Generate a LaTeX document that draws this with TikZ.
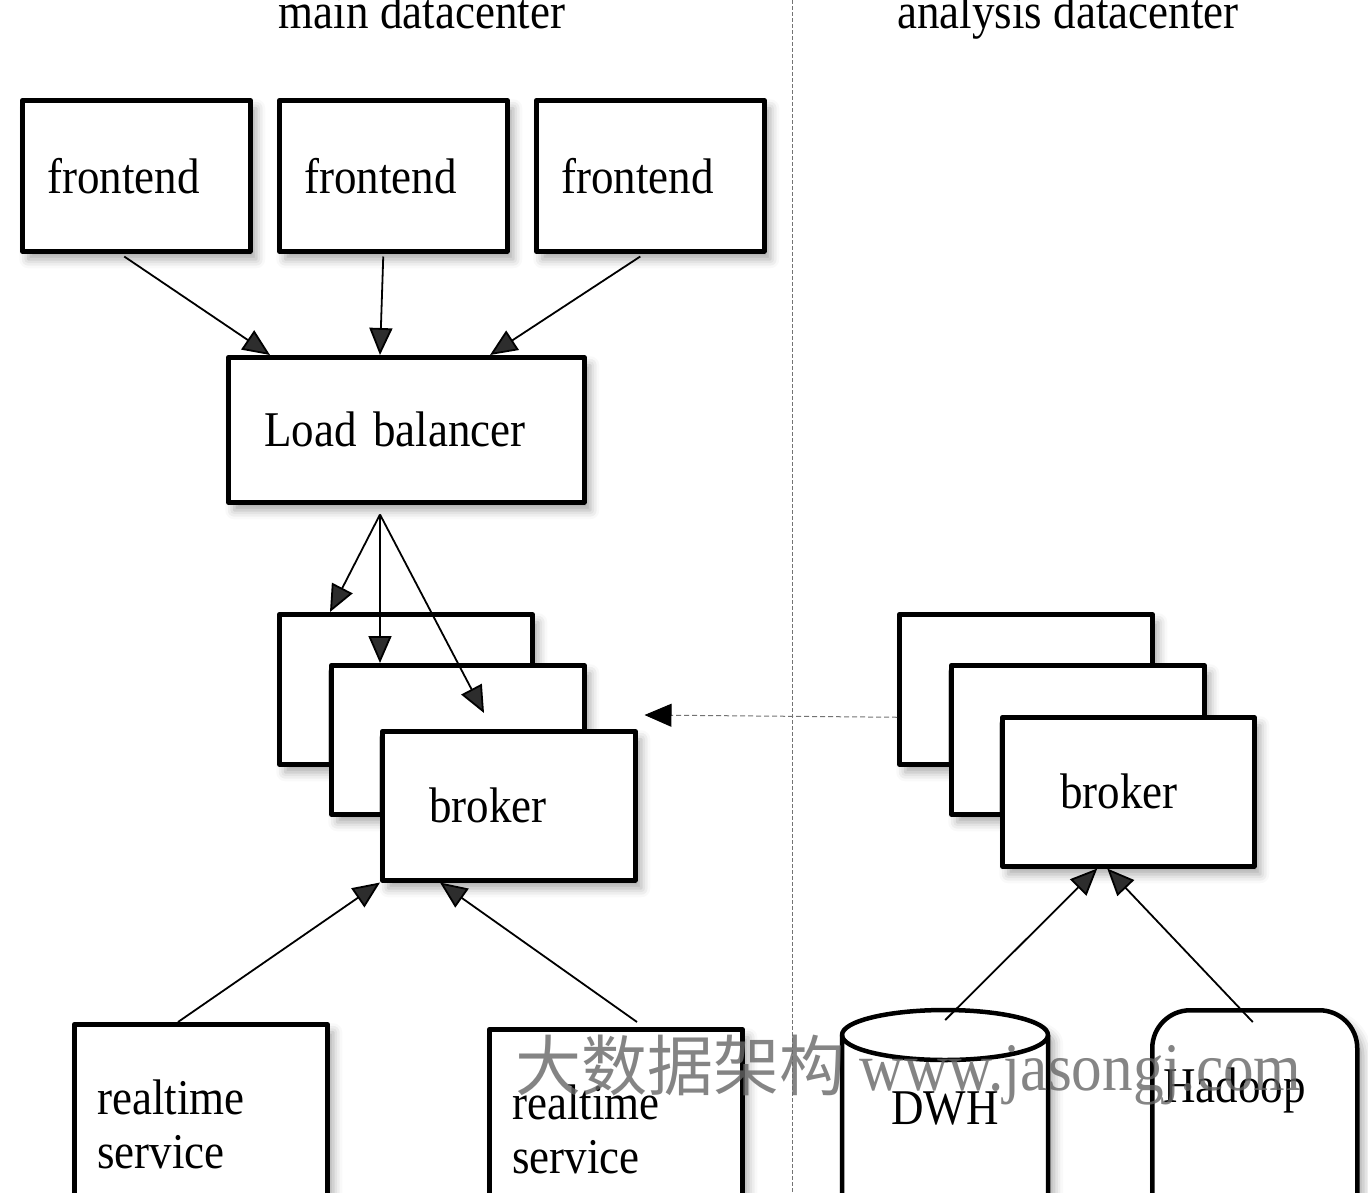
\documentclass[tikz,border=0pt]{standalone}
\usepackage{fontspec}
\setmainfont{Liberation Serif}[FakeStretch=0.9]
\newfontfamily\cjkfont{Noto Sans CJK SC}
\usetikzlibrary{arrows.meta,shadows.blur}

\begin{document}
\begin{tikzpicture}[x=1pt, y=-1pt, font=\fontsize{50}{54}\selectfont, line join=round,
	>={Triangle[length=27pt,width=23pt]},
	softshadow/.style={blur shadow={shadow xshift=6pt, shadow yshift=-8pt, shadow blur radius=9pt, shadow opacity=35}},
	srvbox/.style={draw, line width=4.5pt, fill=white, anchor=north west, inner ysep=0pt, align=left, softshadow},
	link/.style={->, line width=1.8pt},
	sync/.style={-{Triangle[length=27pt,width=23pt,color=black]}, draw=black!55, line width=1pt, dash pattern=on 5pt off 3pt}]
	\useasboundingbox (0,0) rectangle (1368,1192);
	%\draw[color=gray!50,dashed] (0,0) grid[step=100] (1368,1192);
	\draw[black!55, line width=1pt, dash pattern=on 4pt off 2pt] (792,0) -- (792,1192);
	\node[anchor=base] (hdmain) at (422,28) {main datacenter};
	\node[anchor=base] (hdana) at (1068,28) {analysis datacenter};
	% main datacenter
	\foreach \i/\x in {1/20,2/277,3/534}
		\node[srvbox, minimum height=151pt, text width=178pt, inner xsep=25pt] (fe\i) at (\x,98) {frontend};
	\node[srvbox, minimum height=145pt, text width=284pt, inner xsep=36pt] (lb) at (226,355) {Load balancer};
	\foreach \s/\x in {A/277,B/897} {
		\node[srvbox, minimum width=253pt, minimum height=150pt, inner sep=0pt] (brk\s1) at (\x,612) {};
		\node[srvbox, minimum width=253pt, minimum height=149pt, inner sep=0pt] (brk\s2) at (\x+52,663) {};
	}
	\node[srvbox, minimum height=149pt, text width=159pt, inner xsep=47pt] (brkA) at (380,729) {broker};
	\node[srvbox, minimum height=200pt, text width=207pt, inner xsep=23pt] (rt1) at (72,1022) {realtime\\service};
	\node[srvbox, minimum height=200pt, text width=207pt, inner xsep=23pt] (rt2) at (487,1027) {realtime\\service};
	% analysis datacenter
	\node[srvbox, minimum height=149pt, text width=136pt, inner xsep=58pt] (brkB) at (1000,715) {broker};
	\draw[line width=4.5pt, fill=white, softshadow] (842,1035) -- (842,1240) -- (1048,1240) -- (1048,1035)
		arc[start angle=0, end angle=180, x radius=103pt, y radius=25pt] -- cycle;
	\draw[line width=4.5pt] (842,1035) arc[start angle=180, end angle=360, x radius=103pt, y radius=25pt];
	\node[anchor=north west, minimum width=206pt, inner sep=0pt, text height=114pt, text depth=120pt] (dwh) at (842,1010) {DWH};
	\node[srvbox, rounded corners=38pt, text width=183pt, inner xsep=11pt, text height=92pt, text depth=140pt] (hadoop) at (1150,1008) {Hadoop};
	% connectors
	\draw[link] ([xshift=-12pt,yshift=-3pt]fe1.south) -- ([xshift=44pt]lb.north west);
	\draw[link] ([xshift=-10pt,yshift=-3pt]fe2.south) -- ([xshift=154pt]lb.north west);
	\draw[link] ([xshift=-10pt,yshift=-3pt]fe3.south) -- ([xshift=264pt]lb.north west);
	\coordinate (lbout) at ([xshift=154pt,yshift=-10pt]lb.south west);
	\draw[link] (lbout) -- ([xshift=53pt]brkA1.north west);
	\draw[link] (lbout) -- ([xshift=51pt]brkA2.north west);
	\draw[link] (lbout) -- ([xshift=104pt,yshift=16pt]brkA.north west);
	\draw[link] ([xshift=106pt]rt1.north west) -- (brkA.south west);
	\draw[link] ([xshift=150pt,yshift=5pt]rt2.north west) -- ([xshift=60pt]brkA.south west);
	\draw[link] ([yshift=-10pt]dwh.north) -- ([xshift=-31pt]brkB.south);
	\draw[link] ([xshift=-2pt,yshift=-14pt]hadoop.north) -- ([xshift=-21pt]brkB.south);
	\draw[sync] ([yshift=-28pt]brkB1.west) -- ([xshift=7pt,yshift=14pt]brkA.north east);
	% watermark
	\node[anchor=base west, text=black!60, opacity=0.8, inner sep=0pt] (wmark) at (515,1090)
		{\fontsize{66}{66}\cjkfont 大数据架构\ \fontsize{68}{68}\rmfamily www.jasongj.com};
\end{tikzpicture}
\end{document}
